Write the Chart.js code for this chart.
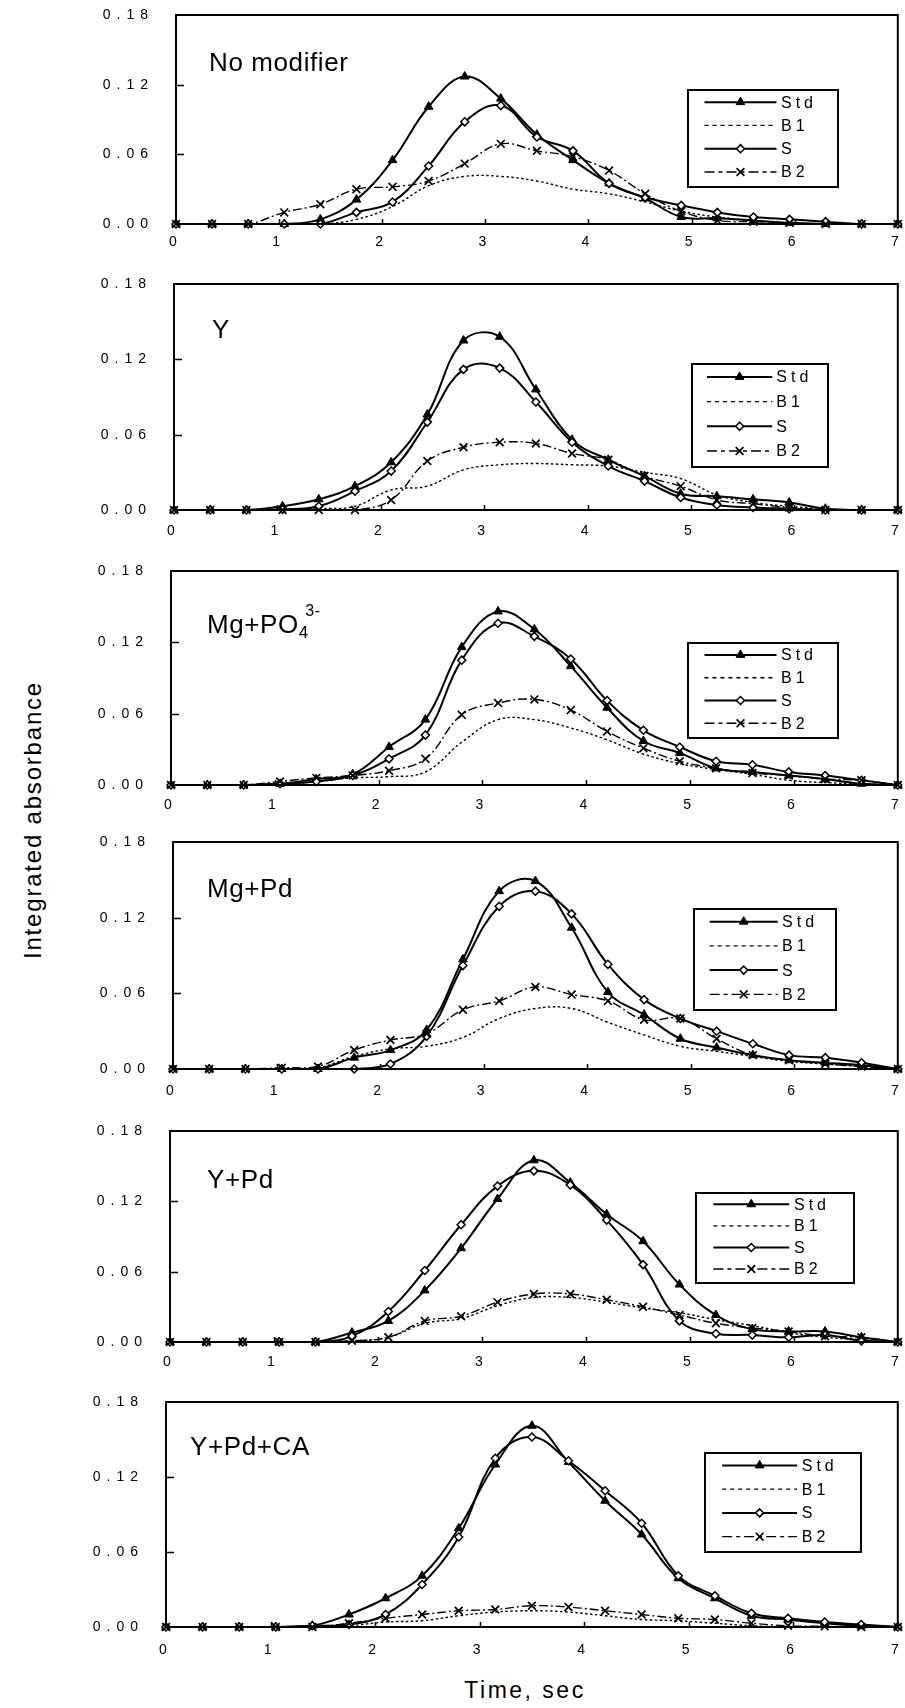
<!DOCTYPE html>
<html><head><meta charset="utf-8">
<script src="https://cdn.jsdelivr.net/npm/chart.js@4.4.1/dist/chart.umd.min.js"></script>
<style>
html,body{margin:0;padding:0;background:#fff;}
body{width:905px;height:1708px;position:relative;overflow:hidden;font-family:"Liberation Sans",Arial,sans-serif;color:#000;}
canvas{position:absolute;left:0;}
.axt{position:absolute;white-space:nowrap;font-family:"Liberation Sans",Arial,sans-serif;color:#000;}
#ytitle{left:33px;top:820px;transform:translate(-50%,-50%) rotate(-90deg);font-size:24px;letter-spacing:1.8px;}
#xtitle{left:525px;top:1690px;transform:translate(-50%,-50%);font-size:23px;letter-spacing:2.5px;}
</style></head><body>
<div id="ytitle" class="axt">Integrated absorbance</div>
<div id="xtitle" class="axt">Time, sec</div>
<script>
// ---------- data ----------
const timeSec = [0,0.35,0.7,1.05,1.4,1.75,2.1,2.45,2.8,3.15,3.5,3.85,4.2,4.55,4.9,5.25,5.6,5.95,6.3,6.65,7];
const xTicks = [0,1,2,3,4,5,6,7];
const yTicks = [0,0.06,0.12,0.18];
const seriesNames = ['Std','B1','S','B2'];
const panelTitles = ['No modifier','Y','Mg+PO{_4}{^3-}','Mg+Pd','Y+Pd','Y+Pd+CA'];

const noModStd = [0,0,0,0,0.004,0.021,0.055,0.101,0.127,0.108,0.077,0.055,0.035,0.022,0.006,0.005,0.003,0.001,0,0,0];
const noModB1  = [0,0,0,0,0,0.004,0.015,0.033,0.041,0.041,0.037,0.030,0.026,0.019,0.011,0.006,0.003,0.001,0,0,0];
const noModS   = [0,0,0,0,0,0.010,0.019,0.050,0.088,0.102,0.075,0.063,0.035,0.023,0.016,0.010,0.006,0.004,0.002,0,0];
const noModB2  = [0,0,0,0.010,0.017,0.030,0.032,0.037,0.052,0.069,0.063,0.058,0.046,0.026,0.011,0.003,0.002,0.001,0,0,0];

const yStd = [0,0,0,0.003,0.0085,0.019,0.038,0.076,0.135,0.138,0.096,0.056,0.040,0.027,0.013,0.011,0.0085,0.006,0.001,0,0];
const yB1  = [0,0,0,0,0.001,0.003,0.016,0.019,0.032,0.036,0.037,0.036,0.035,0.030,0.025,0.012,0.006,0.003,0.001,0,0];
const yS   = [0,0,0,0.0005,0.003,0.015,0.031,0.070,0.112,0.113,0.086,0.054,0.035,0.023,0.010,0.004,0.002,0.001,0,0,0];
const yB2  = [0,0,0,0,0,0,0.008,0.039,0.050,0.054,0.053,0.045,0.040,0.027,0.019,0.008,0.005,0.002,0,0,0];

const mgPO4Std = [0,0,0,0.001,0.005,0.009,0.032,0.055,0.116,0.146,0.131,0.100,0.065,0.037,0.027,0.014,0.011,0.008,0.005,0.001,0];
const mgPO4B1  = [0,0,0,0.001,0.003,0.006,0.007,0.011,0.036,0.055,0.055,0.048,0.038,0.026,0.018,0.013,0.009,0.004,0.002,0.001,0];
const mgPO4S   = [0,0,0,0.001,0.003,0.008,0.022,0.042,0.105,0.136,0.125,0.106,0.071,0.046,0.032,0.020,0.017,0.011,0.008,0.004,0];
const mgPO4B2  = [0,0,0,0.003,0.006,0.008,0.012,0.022,0.059,0.069,0.072,0.063,0.045,0.031,0.020,0.014,0.010,0.008,0.005,0.004,0];

const mgPdStd = [0,0,0,0,0,0.009,0.015,0.031,0.087,0.141,0.149,0.112,0.061,0.043,0.024,0.017,0.011,0.007,0.005,0.003,0];
const mgPdB1  = [0,0,0,0,0.001,0.010,0.016,0.018,0.025,0.040,0.048,0.048,0.037,0.027,0.018,0.014,0.010,0.006,0.004,0.002,0];
const mgPdS   = [0,0,0,0,0,0,0.004,0.026,0.082,0.129,0.141,0.123,0.083,0.055,0.040,0.030,0.020,0.011,0.009,0.005,0];
const mgPdB2  = [0,0,0,0.001,0.002,0.015,0.023,0.028,0.047,0.054,0.065,0.059,0.054,0.039,0.040,0.024,0.011,0.007,0.004,0.002,0];

const yPdStd = [0,0,0,0,0,0.008,0.018,0.044,0.080,0.122,0.155,0.136,0.109,0.086,0.049,0.023,0.011,0.009,0.009,0.004,0];
const yPdB1  = [0,0,0,0,0,0.001,0.004,0.016,0.020,0.031,0.038,0.038,0.034,0.029,0.025,0.019,0.014,0.008,0.004,0.002,0];
const yPdS   = [0,0,0,0,0,0.005,0.026,0.061,0.100,0.133,0.146,0.134,0.104,0.066,0.018,0.007,0.006,0.004,0.006,0.001,0];
const yPdB2  = [0,0,0,0,0,0.001,0.004,0.018,0.022,0.034,0.041,0.041,0.036,0.030,0.023,0.016,0.012,0.009,0.005,0.004,0];

const yPdCaStd = [0,0,0,0,0.001,0.010,0.023,0.041,0.079,0.130,0.161,0.132,0.101,0.074,0.039,0.023,0.009,0.006,0.003,0.001,0];
const yPdCaB1  = [0,0,0,0,0,0.001,0.004,0.005,0.009,0.012,0.013,0.012,0.009,0.006,0.005,0.003,0.001,0,0,0,0];
const yPdCaS   = [0,0,0,0,0.001,0.002,0.010,0.034,0.072,0.135,0.152,0.133,0.109,0.083,0.041,0.025,0.011,0.007,0.004,0.002,0];
const yPdCaB2  = [0,0,0,0,0,0.003,0.007,0.010,0.013,0.014,0.017,0.016,0.013,0.010,0.007,0.006,0.003,0.001,0.0005,0,0];

const panelSeries = [
  [noModStd, noModB1, noModS, noModB2],
  [yStd, yB1, yS, yB2],
  [mgPO4Std, mgPO4B1, mgPO4S, mgPO4B2],
  [mgPdStd, mgPdB1, mgPdS, mgPdB2],
  [yPdStd, yPdB1, yPdS, yPdB2],
  [yPdCaStd, yPdCaB1, yPdCaS, yPdCaB2]
];

// ---------- layout (page pixels) ----------
const layouts = [
  {left:176, right:898, top:15,   bottom:224,  xpad:10, legend:[688,90,150,97],   title:[209,71]},
  {left:174, right:900, top:284,  bottom:510,  xpad:13, legend:[692,364,136,103], title:[212,338]},
  {left:171, right:900, top:571,  bottom:785,  xpad:12, legend:[688,643,150,95],  title:[207,633]},
  {left:173, right:900, top:842,  bottom:1069, xpad:14, legend:[694,909,142,101], title:[207,897]},
  {left:170, right:903, top:1131, bottom:1342, xpad:12, legend:[696,1193,158,90], title:[207,1188]},
  {left:166, right:905, top:1402, bottom:1627, xpad:15, legend:[705,1453,156,99], title:[190,1455]}
];

const TICK_FONT = '"Liberation Sans Narrow","Liberation Sans",Arial,sans-serif';
const TITLE_FONT = '"Liberation Sans",Arial,sans-serif';

const styles = [
  {borderWidth:2, borderDash:[], pointStyle:'triangle', pointRadius:5, pointBackgroundColor:'#000', pointBorderColor:'#000', pointBorderWidth:1},
  {borderWidth:1.4, borderDash:[2.5,2.5], pointStyle:'circle', pointRadius:0, pointBackgroundColor:'#000', pointBorderColor:'#000', pointBorderWidth:0},
  {borderWidth:2, borderDash:[], pointStyle:'rectRot', pointRadius:4, pointBackgroundColor:'#fff', pointBorderColor:'#000', pointBorderWidth:1.5},
  {borderWidth:1.4, borderDash:[9,3,2,3], pointStyle:'crossRot', pointRadius:5.5, pointBackgroundColor:'#000', pointBorderColor:'#000', pointBorderWidth:1.7}
];

function drawTitle(ctx, text, x, y){
  const re = /\{([_^])([^}]*)\}/g;
  let last = 0, m, cx = x;
  ctx.textBaseline = 'alphabetic';
  ctx.textAlign = 'left';
  const parts = [];
  while ((m = re.exec(text)) !== null){
    if (m.index > last) parts.push({t:text.slice(last, m.index), k:''});
    parts.push({t:m[2], k:m[1]});
    last = re.lastIndex;
  }
  if (last < text.length) parts.push({t:text.slice(last), k:''});
  parts.forEach(p => {
    if (p.k === ''){
      ctx.font = '26px ' + TITLE_FONT; ctx.letterSpacing = '0.6px';
      ctx.fillText(p.t, cx, y); cx += ctx.measureText(p.t).width;
    } else if (p.k === '_'){
      ctx.font = '17px ' + TITLE_FONT; ctx.letterSpacing = '0px';
      ctx.fillText(p.t, cx, y + 5); cx += ctx.measureText(p.t).width;
    } else {
      ctx.font = '16px ' + TITLE_FONT; ctx.letterSpacing = '0.5px';
      ctx.fillText(p.t, cx - 3, y - 17); cx += ctx.measureText(p.t).width;
    }
  });
}

const framePlugin = {
  id: 'frame',
  beforeUpdate(chart){ chart.ctx.letterSpacing = '6px'; },
  beforeDraw(chart){ chart.ctx.letterSpacing = '6px'; },
  afterDraw(chart){
    const o = chart.options.plugins.frame;
    const L = o.layout, off = o.offset;
    const ctx = chart.ctx, a = chart.chartArea;
    ctx.save();
    ctx.letterSpacing = '0px';
    ctx.strokeStyle = '#000';
    ctx.lineWidth = 2;
    ctx.strokeRect(a.left, a.top, a.right - a.left, a.bottom - a.top);
    // inner tick marks
    const ys = chart.scales.y, xs = chart.scales.x;
    ctx.lineWidth = 1.5;
    ctx.beginPath();
    yTicks.forEach(v => { if (v > 0 && v < 0.18){ const p = Math.round(ys.getPixelForValue(v)) + 0.5; ctx.moveTo(a.left, p); ctx.lineTo(a.left + 8, p);} });
    xTicks.forEach(v => { if (v > 0 && v < 7){ const p = Math.round(xs.getPixelForValue(v)) + 0.5; ctx.moveTo(p, a.bottom); ctx.lineTo(p, a.bottom - 5);} });
    ctx.stroke();
    // legend box
    const [lx, lyPage, lw, lh] = L.legend;
    const ly = lyPage - off;
    ctx.fillStyle = '#fff';
    ctx.fillRect(lx, ly, lw, lh);
    ctx.lineWidth = 2;
    ctx.strokeRect(lx, ly, lw, lh);
    chart.data.datasets.forEach((ds, i) => {
      const cy = ly + lh * (0.125 + i * 0.24);
      const x1 = lx + lw * 0.11, x2 = lx + lw * 0.59, xm = (x1 + x2) / 2;
      ctx.save();
      ctx.strokeStyle = '#000';
      ctx.setLineDash(i === 1 ? [4,4] : (i === 3 ? [10,4,4,4] : []));
      ctx.lineWidth = ds.borderWidth;
      ctx.beginPath(); ctx.moveTo(x1, cy); ctx.lineTo(x2, cy); ctx.stroke();
      ctx.setLineDash([]);
      if (ds.pointRadius > 0){
        ctx.fillStyle = ds.pointBackgroundColor;
        ctx.strokeStyle = ds.pointBorderColor;
        ctx.lineWidth = ds.pointBorderWidth;
        Chart.helpers.drawPoint(ctx, {pointStyle: ds.pointStyle, radius: ds.pointRadius, borderWidth: ds.pointBorderWidth, rotation: 0}, xm, cy);
      }
      ctx.fillStyle = '#000';
      ctx.font = '16px ' + TICK_FONT;
      ctx.letterSpacing = '4px';
      ctx.textBaseline = 'middle';
      ctx.textAlign = 'left';
      ctx.fillText(ds.label, lx + lw * 0.62, cy + 1);
      ctx.restore();
    });
    // panel title
    ctx.fillStyle = '#000';
    drawTitle(ctx, o.title, L.title[0], L.title[1] - off);
    ctx.restore();
  }
};

layouts.forEach((L, pi) => {
  const padTop = Math.min(20, L.top);
  const plotH = L.bottom - L.top;
  const xAxisH = 45;
  const H = padTop + plotH + xAxisH;
  const off = L.top - padTop;
  const cv = document.createElement('canvas');
  cv.width = 905; cv.height = H;
  cv.style.width = '905px'; cv.style.height = H + 'px';
  cv.style.top = off + 'px';
  document.body.appendChild(cv);

  const datasets = panelSeries[pi].map((vals, si) => Object.assign({
    label: seriesNames[si],
    data: vals.map((v, k) => ({x: timeSec[k], y: v})),
    borderColor: '#000',
    backgroundColor: '#000',
    fill: false,
    tension: 0.4,
    clip: false,
    order: 4 - si
  }, styles[si]));

  new Chart(cv, {
    type: 'line',
    data: {datasets},
    plugins: [framePlugin],
    options: {
      responsive: false,
      animation: false,
      devicePixelRatio: 1,
      events: [],
      layout: {padding: {top: padTop, right: 905 - L.right, left: 0, bottom: 0}},
      plugins: {
        legend: {display: false},
        tooltip: {enabled: false},
        frame: {layout: L, offset: off, title: panelTitles[pi]}
      },
      scales: {
        x: {
          type: 'linear', min: 0, max: 7,
          afterBuildTicks: s => { s.ticks = xTicks.map(v => ({value: v})); },
          afterFit: s => { s.height = xAxisH; s.paddingLeft = 0; s.paddingRight = 0; },
          grid: {display: false, drawTicks: false},
          border: {display: false},
          ticks: {padding: L.xpad, color: '#000', font: {size: 14, family: TICK_FONT}, maxRotation: 0, autoSkip: false, callback: v => String(v)}
        },
        y: {
          type: 'linear', min: 0, max: 0.18,
          afterBuildTicks: s => { s.ticks = yTicks.map(v => ({value: v})); },
          afterFit: s => { s.width = L.left; s.paddingTop = 0; s.paddingBottom = 0; },
          grid: {display: false, drawTicks: false},
          border: {display: false},
          ticks: {padding: 22, color: '#000', font: {size: 14, family: TICK_FONT}, callback: v => Number(v).toFixed(2)}
        }
      }
    }
  });
});
</script>
</body></html>
